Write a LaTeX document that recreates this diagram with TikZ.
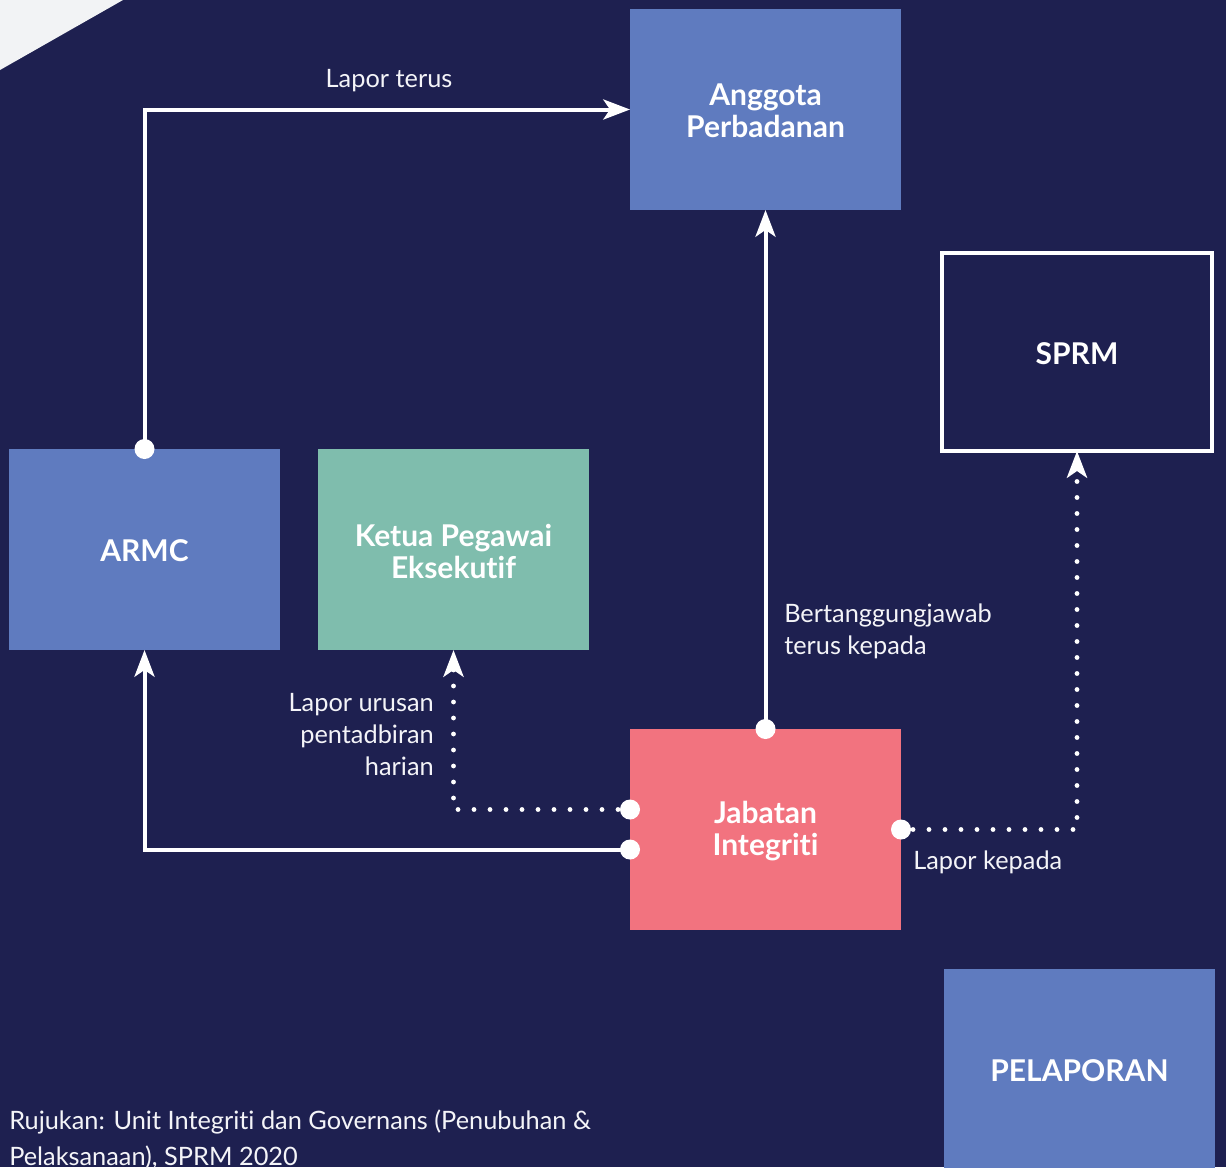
\documentclass[tikz,border=0pt]{standalone}
\usepackage{fontspec}
\setmainfont[Ligatures={NoCommon,NoRare}]{Lato}
\usetikzlibrary{arrows.meta}
\definecolor{navy}{HTML}{1E2050}
\definecolor{boxblue}{HTML}{5F7BBF}
\definecolor{boxgreen}{HTML}{7FBDAD}
\definecolor{boxpink}{HTML}{F2737F}
\definecolor{paper}{HTML}{F2F3F5}
\definecolor{txt}{HTML}{F4F4F8}
\begin{document}
\begin{tikzpicture}[x=0.75pt,y=-0.75pt,
  box/.style={inner sep=0pt, outer sep=0pt, minimum width=203.25pt, minimum height=150.75pt},
  btxt/.style={inner sep=0pt, text=white, font=\bfseries\fontsize{22.5}{24}\selectfont, align=center},
  lbl/.style={text=txt, font=\fontsize{19}{24}\selectfont, inner sep=0pt},
  conn/.style={draw=white, line width=3pt, -{Stealth[length=20pt,width=15pt,inset=5pt]}},
  dotconn/.style={draw=white, line width=3.6pt, line cap=round, dash pattern=on 0pt off 12pt, -{Stealth[length=20pt,width=15pt,inset=5pt]}},
  dot/.style={fill=white}
]
\useasboundingbox (0,0) rectangle (1226,1167);
\fill[navy] (0,0) rectangle (1226,1167);
\fill[paper] (0,0) -- (123,0) -- (0,70) -- cycle;

\node[box, fill=boxblue] (ang) at (765.5,109.5) {};
\node[box, draw=white, line width=3pt, minimum width=202.5pt, minimum height=148.5pt] (sprm) at (1077,352) {};
\node[box, fill=boxblue] (armc) at (144.5,549.5) {};
\node[box, fill=boxgreen] (ketua) at (453.5,549.5) {};
\node[box, fill=boxpink] (jab) at (765.5,829.5) {};
\node[box, fill=boxblue] (pel) at (1079.5,1069.5) {};

\node[btxt] (tang) at (765.5,111) {Anggota\\Perbadanan};
\node[btxt] (tsprm) at (1077,354) {SPRM};
\node[btxt] (tarmc) at (144.5,551) {ARMC};
\node[btxt] (tketua) at (453.5,551.5) {Ketua Pegawai\\Eksekutif};
\node[btxt] (tjab) at (765.5,831.5) {Jabatan\\Integriti};
\node[btxt] (tpel) at (1079.5,1071) {PELAPORAN};

\coordinate (jabA) at ([yshift=15pt]jab.west);
\coordinate (jabB) at ([yshift=-15pt]jab.west);

% connectors
\draw[conn] (armc.north) |- (ang.west);
\draw[conn] (jab.north) -- (ang.south);
\draw[conn] (jabB) -| (armc.south);
\draw[dotconn] ([xshift=-9pt]jabA) -| (ketua.south);
\draw[dotconn] ([xshift=9pt]jab.east) -| (sprm.south);

\fill[dot] (armc.north) circle (7.5pt);
\fill[dot] (jab.north) circle (7.5pt);
\fill[dot] (jabA) circle (7.5pt);
\fill[dot] (jabB) circle (7.5pt);
\fill[dot] (jab.east) circle (7.5pt);

% labels
\node[lbl] (l1) at (389,81) {Lapor terus};
\node[lbl, anchor=west, align=left] (l2) at (784,631) {Bertanggungjawab\\terus kepada};
\node[lbl, anchor=east, align=right] (l3) at (434,735) {Lapor urusan\\pentadbiran\\harian};
\node[lbl, anchor=west] (l4) at (913,862) {Lapor kepada};
\node[lbl, anchor=north west, align=left, font=\fontsize{19}{27}\selectfont] (ref) at (9,1110) {Rujukan: Unit Integriti dan Governans (Penubuhan \&\\Pelaksanaan), SPRM 2020};
\end{tikzpicture}
\end{document}
